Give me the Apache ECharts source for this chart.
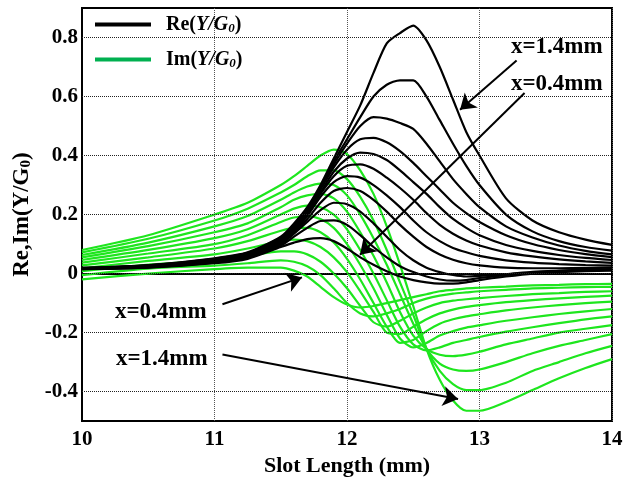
<!DOCTYPE html>
<html>
<head>
<meta charset="utf-8">
<script src="https://cdn.jsdelivr.net/npm/echarts/dist/echarts.min.js"></script>
<style>html,body{margin:0;padding:0;background:#fff}#c{width:640px;height:482px}</style>
</head>
<body>
<div id="c"></div>
<script>
// Slot length (mm) sample positions shared by all curves
const X = [10, 10.5, 11, 11.25, 11.5, 11.6, 11.7, 11.8, 11.9, 12, 12.1, 12.2, 12.3, 12.4, 12.5, 12.6, 12.7, 12.8, 12.9, 13, 13.2, 13.4, 13.6, 13.8, 14];
const offsets = ['0.4','0.5','0.6','0.7','0.8','0.9','1.0','1.1','1.2','1.3','1.4'];
// Re(Y/G0) for x = 0.4 ... 1.4 mm
const re04 = [0.015, 0.02, 0.035, 0.05, 0.09, 0.105, 0.117, 0.12, 0.11, 0.085, 0.055, 0.03, 0.008, -0.01, -0.022, -0.03, -0.034, -0.034, -0.03, -0.022, -0.01, 0.0, 0.005, 0.008, 0.01];
const re05 = [0.015, 0.021, 0.037, 0.053, 0.095, 0.125, 0.155, 0.178, 0.18, 0.165, 0.13, 0.09, 0.055, 0.025, 0.005, -0.01, -0.02, -0.024, -0.022, -0.015, -0.005, 0.003, 0.008, 0.011, 0.013];
const re06 = [0.016, 0.022, 0.039, 0.055, 0.1, 0.135, 0.175, 0.215, 0.24, 0.235, 0.21, 0.17, 0.125, 0.08, 0.045, 0.02, 0.005, -0.005, -0.01, -0.008, -0.002, 0.006, 0.01, 0.013, 0.015];
const re07 = [0.016, 0.022, 0.04, 0.057, 0.105, 0.14, 0.185, 0.24, 0.28, 0.29, 0.28, 0.25, 0.21, 0.165, 0.125, 0.09, 0.065, 0.047, 0.035, 0.028, 0.02, 0.018, 0.018, 0.019, 0.02];
const re08 = [0.016, 0.023, 0.042, 0.06, 0.11, 0.145, 0.195, 0.26, 0.31, 0.33, 0.325, 0.3, 0.265, 0.225, 0.18, 0.14, 0.11, 0.087, 0.072, 0.06, 0.045, 0.037, 0.032, 0.029, 0.027];
const re09 = [0.017, 0.024, 0.044, 0.062, 0.112, 0.15, 0.2, 0.27, 0.33, 0.365, 0.37, 0.355, 0.325, 0.29, 0.25, 0.205, 0.165, 0.135, 0.112, 0.095, 0.072, 0.058, 0.048, 0.041, 0.036];
const re10 = [0.017, 0.025, 0.045, 0.064, 0.115, 0.155, 0.205, 0.275, 0.345, 0.39, 0.41, 0.405, 0.385, 0.35, 0.31, 0.27, 0.225, 0.185, 0.155, 0.13, 0.097, 0.077, 0.063, 0.053, 0.046];
const re11 = [0.018, 0.026, 0.046, 0.066, 0.118, 0.16, 0.21, 0.285, 0.36, 0.42, 0.455, 0.46, 0.445, 0.415, 0.375, 0.33, 0.285, 0.24, 0.205, 0.175, 0.13, 0.1, 0.08, 0.066, 0.056];
const re12 = [0.018, 0.027, 0.048, 0.068, 0.12, 0.162, 0.215, 0.29, 0.37, 0.44, 0.5, 0.53, 0.525, 0.51, 0.49, 0.44, 0.38, 0.32, 0.27, 0.225, 0.16, 0.122, 0.095, 0.077, 0.065];
const re13 = [0.019, 0.028, 0.05, 0.07, 0.122, 0.165, 0.22, 0.295, 0.38, 0.455, 0.53, 0.6, 0.64, 0.655, 0.655, 0.6, 0.52, 0.44, 0.365, 0.3, 0.2, 0.143, 0.11, 0.09, 0.078];
const re14 = [0.019, 0.029, 0.052, 0.072, 0.125, 0.17, 0.225, 0.3, 0.39, 0.48, 0.57, 0.68, 0.78, 0.815, 0.84, 0.79, 0.7, 0.59, 0.48, 0.4, 0.255, 0.18, 0.14, 0.115, 0.097];
// Im(Y/G0) for x = 0.4 ... 1.4 mm
const im04 = [-0.02, 0.0, 0.015, 0.02, 0.02, 0.01, -0.01, -0.045, -0.08, -0.105, -0.115, -0.11, -0.1, -0.09, -0.08, -0.07, -0.06, -0.055, -0.05, -0.048, -0.044, -0.04, -0.038, -0.036, -0.035];
const im05 = [-0.005, 0.017, 0.027, 0.035, 0.045, 0.04, 0.025, -0.005, -0.05, -0.1, -0.135, -0.145, -0.135, -0.12, -0.1, -0.085, -0.075, -0.068, -0.064, -0.06, -0.055, -0.05, -0.048, -0.046, -0.045];
const im06 = [0.008, 0.03, 0.045, 0.06, 0.075, 0.075, 0.065, 0.04, 0.0, -0.05, -0.11, -0.165, -0.18, -0.16, -0.135, -0.115, -0.1, -0.092, -0.087, -0.083, -0.076, -0.07, -0.066, -0.062, -0.06];
const im07 = [0.018, 0.043, 0.065, 0.085, 0.11, 0.115, 0.11, 0.09, 0.055, 0.005, -0.06, -0.13, -0.2, -0.205, -0.18, -0.155, -0.135, -0.122, -0.113, -0.107, -0.097, -0.09, -0.084, -0.079, -0.075];
const im08 = [0.028, 0.055, 0.085, 0.11, 0.145, 0.155, 0.155, 0.14, 0.105, 0.05, -0.02, -0.1, -0.18, -0.235, -0.225, -0.195, -0.17, -0.155, -0.145, -0.138, -0.125, -0.115, -0.107, -0.1, -0.095];
const im09 = [0.037, 0.068, 0.1, 0.13, 0.175, 0.19, 0.195, 0.185, 0.155, 0.1, 0.03, -0.05, -0.14, -0.22, -0.25, -0.235, -0.21, -0.195, -0.183, -0.175, -0.16, -0.148, -0.137, -0.128, -0.12];
const im10 = [0.046, 0.08, 0.12, 0.15, 0.2, 0.22, 0.23, 0.225, 0.2, 0.15, 0.08, 0.0, -0.09, -0.18, -0.24, -0.26, -0.25, -0.235, -0.225, -0.215, -0.197, -0.182, -0.168, -0.155, -0.145];
const im11 = [0.055, 0.093, 0.14, 0.17, 0.225, 0.25, 0.265, 0.27, 0.255, 0.21, 0.14, 0.06, -0.03, -0.13, -0.21, -0.255, -0.275, -0.28, -0.275, -0.265, -0.24, -0.22, -0.2, -0.187, -0.175];
const im12 = [0.063, 0.105, 0.16, 0.195, 0.25, 0.275, 0.295, 0.305, 0.3, 0.265, 0.2, 0.12, 0.03, -0.07, -0.17, -0.255, -0.305, -0.325, -0.33, -0.325, -0.3, -0.27, -0.245, -0.225, -0.205];
const im13 = [0.072, 0.118, 0.18, 0.22, 0.275, 0.3, 0.33, 0.35, 0.35, 0.32, 0.26, 0.18, 0.08, -0.03, -0.14, -0.255, -0.33, -0.375, -0.395, -0.395, -0.37, -0.33, -0.3, -0.27, -0.245];
const im14 = [0.08, 0.13, 0.2, 0.24, 0.3, 0.33, 0.365, 0.4, 0.42, 0.405, 0.35, 0.27, 0.16, 0.03, -0.11, -0.255, -0.36, -0.43, -0.465, -0.465, -0.435, -0.395, -0.355, -0.32, -0.29];
// axis ticks
const xTicks = [10, 11, 12, 13, 14];
const yTicks = [-0.4, -0.2, 0, 0.2, 0.4, 0.6, 0.8];
// annotation arrows (data coordinates: [from, to])
const arrows = [
  [[13.28, 0.722], [12.853, 0.555]],
  [[13.34, 0.612], [12.098, 0.064]],
  [[11.06, -0.104], [11.66, -0.013]],
  [[11.06, -0.274], [12.838, -0.425]]
];

const reSets = [re04, re05, re06, re07, re08, re09, re10, re11, re12, re13, re14];
const imSets = [im04, im05, im06, im07, im08, im09, im10, im11, im12, im13, im14];
const FONT = '"Liberation Serif", "Times New Roman", serif';
const GREEN = '#1ee61e';

function pts(ys) { return X.map((x, i) => [x, ys[i]]); }

const series = [];
series.push({
  type: 'line', name: 'grid', data: [], z: 1, silent: true,
  markLine: {
    silent: true, symbol: ['none', 'none'], animation: false,
    label: { show: false },
    lineStyle: { type: 'dotted', color: '#222', width: 1 },
    data: yTicks.map(v => ({ yAxis: v }))
  }
});
imSets.forEach((d, k) => series.push({
  type: 'line', name: 'Im', data: pts(d), showSymbol: false, smooth: 0.25, z: 2,
  lineStyle: { color: GREEN, width: 2.2 }, itemStyle: { color: GREEN }
}));
reSets.forEach((d, k) => series.push({
  type: 'line', name: 'Re', data: pts(d), showSymbol: false, smooth: 0.25, z: 3,
  lineStyle: { color: '#000', width: 2.2 }, itemStyle: { color: '#000' }
}));
series.push({
  type: 'line', name: 'arrows', data: [], z: 5, silent: true,
  markLine: {
    silent: true, symbol: ['none', 'arrow'], symbolSize: 15, animation: false,
    label: { show: false },
    lineStyle: { type: 'solid', color: '#000', width: 2 },
    data: arrows.map(a => [{ coord: a[0] }, { coord: a[1] }])
  }
});

const chart = echarts.init(document.getElementById('c'), null, { renderer: 'canvas' });
const annFont = 'bold 23px ' + FONT;
chart.setOption({
  animation: false,
  backgroundColor: '#fff',
  grid: { left: 82, right: 28, top: 8, bottom: 57, show: true, borderColor: '#000', borderWidth: 2, backgroundColor: 'transparent' },
  xAxis: {
    type: 'value', min: 10, max: 14, interval: 1,
    name: 'Slot Length (mm)', nameLocation: 'middle', nameGap: 28,
    nameTextStyle: { fontFamily: FONT, fontWeight: 'bold', fontSize: 22, color: '#000' },
    axisLine: { show: true, lineStyle: { color: '#000', width: 2 } },
    axisTick: { show: false },
    axisLabel: { fontFamily: FONT, fontWeight: 'bold', fontSize: 21, color: '#000', margin: 8,
      formatter: v => xTicks.indexOf(v) >= 0 ? String(v) : '' },
    splitLine: { show: true, lineStyle: { type: 'dotted', color: '#555', width: 1 } }
  },
  yAxis: {
    type: 'value', min: -0.5, max: 0.9, interval: 0.1,
    name: 'Re,Im(Y/G{s|0})', nameLocation: 'middle', nameGap: 46,
    nameTextStyle: { fontFamily: FONT, fontWeight: 'bold', fontSize: 23, color: '#000',
      rich: { s: { fontFamily: FONT, fontWeight: 'bold', fontSize: 15, color: '#000', verticalAlign: 'bottom', padding: [8, 0, 0, 0] } } },
    axisLine: { show: true, onZero: false, lineStyle: { color: '#000', width: 2 } },
    axisTick: { show: false },
    axisLabel: { fontFamily: FONT, fontWeight: 'bold', fontSize: 21, color: '#000', margin: 4,
      formatter: v => {
        const hit = yTicks.find(t => Math.abs(t - v) < 1e-6);
        if (hit === undefined) return '';
        return hit === 0 ? '0' : hit.toFixed(1);
      } },
    splitLine: { show: false }
  },
  legend: {
    left: 90, top: 9, orient: 'vertical', itemGap: 14, itemWidth: 56, itemHeight: 4, icon: 'rect',
    data: [
      { name: 'Re', itemStyle: { color: '#000' } },
      { name: 'Im', itemStyle: { color: '#00b050' } }
    ],
    formatter: n => '{n|' + n + '(}{i|Y/G}{s|0}{n|)}',
    textStyle: {
      fontFamily: FONT, fontWeight: 'bold', fontSize: 20, color: '#000', lineHeight: 21, padding: [0, 0, 0, 10],
      rich: {
        n: { fontFamily: FONT, fontWeight: 'bold', fontSize: 20, color: '#000' },
        i: { fontFamily: FONT, fontWeight: 'bold', fontStyle: 'italic', fontSize: 20, color: '#000' },
        s: { fontFamily: FONT, fontWeight: 'bold', fontStyle: 'italic', fontSize: 13, color: '#000', verticalAlign: 'bottom' }
      }
    }
  },
  graphic: [
    { type: 'text', left: 511, top: 36, z: 10, style: { text: 'x=1.4mm', font: annFont, fill: '#000' } },
    { type: 'text', left: 511, top: 73, z: 10, style: { text: 'x=0.4mm', font: annFont, fill: '#000' } },
    { type: 'text', left: 115, top: 301, z: 10, style: { text: 'x=0.4mm', font: annFont, fill: '#000' } },
    { type: 'text', left: 116, top: 348, z: 10, style: { text: 'x=1.4mm', font: annFont, fill: '#000' } }
  ],
  series: series
});
</script>
</body>
</html>
